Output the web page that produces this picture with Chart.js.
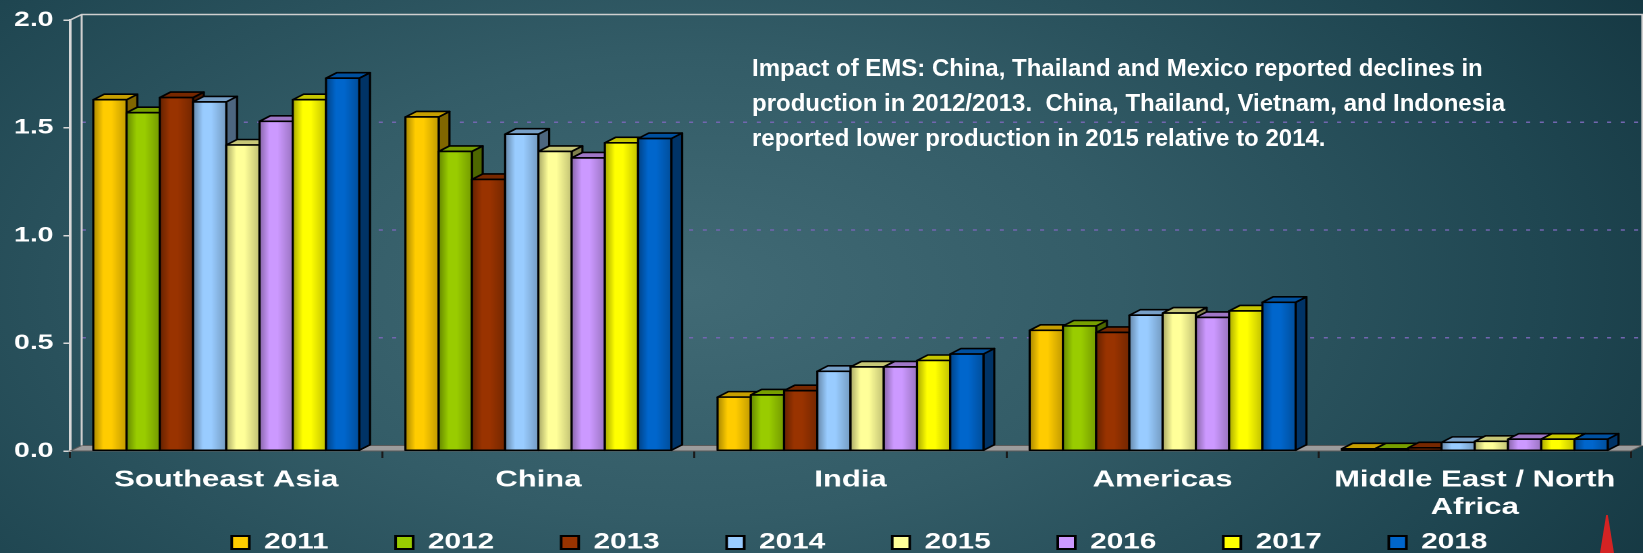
<!DOCTYPE html>
<html>
<head>
<meta charset="utf-8">
<script src="https://cdn.jsdelivr.net/npm/chart.js@4"></script>
<style>
  html, body { margin: 0; padding: 0; }
  body {
    width: 1643px; height: 553px; overflow: hidden; position: relative;
    font-family: "Liberation Sans", Arial, sans-serif;
    background: radial-gradient(ellipse 75% 120% at 42% 52%, #416a75 0%, #335c67 35%, #1f4651 70%, #10303a 100%);
  }
  /* the original chart is a stretched slide object, so the canvas is widened the same way */
  #wrap { position: absolute; left: 0; top: 0; width: 1217px; height: 553px; transform: scaleX(1.35); transform-origin: 0 0; }
  #note { position: absolute; left: 752px; top: 50px; color: #fff; font-weight: bold; font-size: 24px; line-height: 35px; white-space: nowrap; }
  #spike { position: absolute; left: 1600px; top: 515px; width: 14px; height: 38px; background: #d42323; clip-path: polygon(44% 0, 56% 0, 100% 100%, 0 100%); }
</style>
</head>
<body>
<div id="wrap"><canvas id="shrimpChart"></canvas></div>
<div id="note">Impact of EMS: China, Thailand and Mexico reported declines in<br>production in 2012/2013.&nbsp; China, Thailand, Vietnam, and Indonesia<br>reported lower production in 2015 relative to 2014.</div>
<div id="spike"></div>
<script>
// data
const regions = ['Southeast Asia', 'China', 'India', 'Americas', ['Middle East / North', 'Africa']];
const years = ['2011', '2012', '2013', '2014', '2015', '2016', '2017', '2018'];
const colors = ['#FFCC00', '#99CC00', '#993300', '#99CCFF', '#FFFF99', '#CC99FF', '#FFFF00', '#0066CC'];
// values per year, in region order
const y2011 = [1.63, 1.55, 0.25, 0.56, 0.01];
const y2012 = [1.57, 1.39, 0.26, 0.58, 0.01];
const y2013 = [1.64, 1.26, 0.28, 0.55, 0.015];
const y2014 = [1.62, 1.47, 0.37, 0.63, 0.04];
const y2015 = [1.42, 1.39, 0.39, 0.64, 0.045];
const y2016 = [1.53, 1.36, 0.39, 0.62, 0.055];
const y2017 = [1.63, 1.43, 0.42, 0.65, 0.055];
const y2018 = [1.73, 1.45, 0.45, 0.69, 0.055];
const series = [y2011, y2012, y2013, y2014, y2015, y2016, y2017, y2018];
const yTicks = [0, 0.5, 1.0, 1.5, 2.0];

const DX = 8, DY = 5.5, WALL_X = 8.5;

function shade(hex, f) {
  const n = parseInt(hex.slice(1), 16);
  const r = Math.min(255, Math.round(((n >> 16) & 255) * f));
  const g = Math.min(255, Math.round(((n >> 8) & 255) * f));
  const b = Math.min(255, Math.round((n & 255) * f));
  return `rgb(${r},${g},${b})`;
}

function drawBar(ctx, el, color) {
  const half = el.width / 2;
  const l = el.x - half, r = el.x + half, t = el.y, b = el.base;
  // side face
  ctx.beginPath();
  ctx.moveTo(r, t); ctx.lineTo(r + DX, t - DY); ctx.lineTo(r + DX, b - DY); ctx.lineTo(r, b); ctx.closePath();
  ctx.fillStyle = shade(color, 0.5); ctx.fill(); ctx.stroke();
  // top face
  ctx.beginPath();
  ctx.moveTo(l, t); ctx.lineTo(l + DX, t - DY); ctx.lineTo(r + DX, t - DY); ctx.lineTo(r, t); ctx.closePath();
  ctx.fillStyle = shade(color, 0.78); ctx.fill(); ctx.stroke();
  // front face, rounded look
  const g = ctx.createLinearGradient(l, 0, r, 0);
  g.addColorStop(0, shade(color, 0.66));
  g.addColorStop(0.3, color);
  g.addColorStop(0.55, color);
  g.addColorStop(1, shade(color, 0.76));
  ctx.fillStyle = g;
  ctx.fillRect(l, t, r - l, b - t);
  ctx.strokeRect(l, t, r - l, b - t);
}

// draws back wall, floor, dashed grid and the 3D bars
const bars3d = {
  id: 'bars3d',
  afterLayout(chart) {
    // legend sits a little right of the plot centre in the original
    chart.legend.left += 25;
    chart.legend.right += 25;
  },
  beforeDatasetsDraw(chart) {
    const { ctx, chartArea: a, scales: { y } } = chart;
    ctx.save();
    // floor
    ctx.beginPath();
    ctx.moveTo(a.left, a.bottom); ctx.lineTo(a.right, a.bottom);
    ctx.lineTo(a.right + WALL_X, a.bottom - DY); ctx.lineTo(a.left + WALL_X, a.bottom - DY); ctx.closePath();
    ctx.fillStyle = '#9c9c9c'; ctx.fill();
    ctx.strokeStyle = '#5a5a5a'; ctx.lineWidth = 1; ctx.stroke();
    // dashed gridlines on back wall
    ctx.setLineDash([3, 7]);
    ctx.strokeStyle = '#7366b0'; ctx.lineWidth = 1.5;
    yTicks.slice(1, -1).forEach(v => {
      const py = y.getPixelForValue(v) - DY;
      ctx.beginPath(); ctx.moveTo(a.left + WALL_X, py); ctx.lineTo(a.right + WALL_X, py); ctx.stroke();
    });
    ctx.setLineDash([]);
    // wall outline
    ctx.strokeStyle = '#cfcfcf'; ctx.lineWidth = 1.5;
    ctx.beginPath();
    ctx.moveTo(a.left, a.top); ctx.lineTo(a.left + WALL_X, a.top - DY);
    ctx.lineTo(a.right + WALL_X, a.top - DY); ctx.lineTo(a.right + WALL_X, a.bottom - DY);
    ctx.moveTo(a.left + WALL_X, a.top - DY); ctx.lineTo(a.left + WALL_X, a.bottom - DY);
    ctx.stroke();
    // bars, left to right so fronts cover neighbours' sides
    ctx.strokeStyle = '#000'; ctx.lineWidth = 1.6; ctx.lineJoin = 'round';
    regions.forEach((_, i) => {
      series.forEach((_, d) => {
        const el = chart.getDatasetMeta(d).data[i];
        drawBar(ctx, el, colors[d]);
      });
    });
    ctx.restore();
    return false;
  }
};

Chart.defaults.font.family = '"Liberation Sans", Arial, sans-serif';
Chart.defaults.font.weight = 'bold';
Chart.defaults.color = '#fff';

// legend texts get trailing spaces so the items spread like the original without tall padding
const legendGap = '\u00a0'.repeat(6);

const ctx = document.getElementById('shrimpChart').getContext('2d');
const shrimpChart = new Chart(ctx, {
  type: 'bar',
  data: {
    labels: regions,
    datasets: series.map((vals, d) => ({
      label: years[d],
      data: vals,
      backgroundColor: colors[d],
      borderColor: '#000',
      borderWidth: 2,
      categoryPercentage: 0.852,
      barPercentage: 1.0,
    }))
  },
  options: {
    responsive: true,
    maintainAspectRatio: false,
    animation: false,
    devicePixelRatio: 2,
    layout: { padding: { left: 3.0, right: 9, top: 4.8, bottom: -10.5 } },
    scales: {
      x: {
        grid: { drawOnChartArea: false, tickLength: 7, tickColor: '#1a1a1a', lineWidth: 1.5 },
        border: { display: false },
        ticks: { color: '#fff', font: { size: 23, weight: 'bold', lineHeight: 1.2 }, padding: 8.3, maxRotation: 0, autoSkip: false },
        afterFit(scale) { scale.height = 67.5; }
      },
      y: {
        min: 0,
        max: 2,
        grid: { drawOnChartArea: false, tickLength: 5, tickColor: '#d8d8d8', lineWidth: 1.5 },
        border: { color: '#d8d8d8', width: 2 },
        ticks: {
          stepSize: 0.5, padding: 7.4, color: '#fff',
          font: { size: 21, weight: 'bold' },
          callback: v => v.toFixed(1)
        }
      }
    },
    plugins: {
      legend: {
        position: 'bottom',
        fullSize: false,
        labels: {
          boxWidth: 13, boxHeight: 13, padding: 13, color: '#fff', font: { size: 22, weight: 'bold' },
          generateLabels(chart) {
            const items = Chart.defaults.plugins.legend.labels.generateLabels(chart);
            items.forEach(it => { it.text = it.text + legendGap; });
            return items;
          }
        }
      },
      tooltip: { enabled: false }
    }
  },
  plugins: [bars3d]
});
</script>
</body>
</html>
